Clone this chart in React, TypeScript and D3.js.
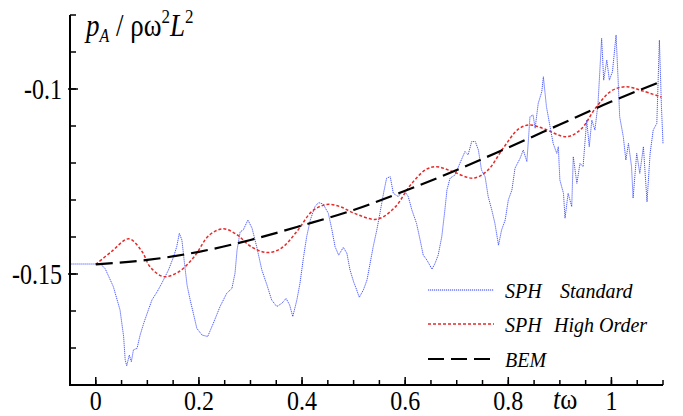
import React from "react";
import * as d3 from "d3";

const W = 683;
const H = 416;

const xTicksMajor = [0, 0.2, 0.4, 0.6, 0.8, 1];
const xTickLabels = ["0", "0.2", "0.4", "0.6", "0.8", "1"];
const yTicksMajor = [-0.1, -0.15];
const yTickLabels = ["-0.1", "-0.15"];

const bem: [number, number][] = [
  [0, -0.1474], [0.1, -0.1462], [0.2, -0.144], [0.3, -0.1408], [0.4, -0.1369],
  [0.5, -0.1327], [0.6, -0.1275], [0.7, -0.1219], [0.8, -0.1158], [0.9, -0.1096],
  [1.0, -0.1034], [1.1, -0.0978],
];

const sphHighOrder: [number, number][] = [
  [0, -0.1474], [0.03, -0.144], [0.064, -0.1405], [0.09, -0.144], [0.105, -0.148],
  [0.131, -0.1507], [0.16, -0.1495], [0.19, -0.1455], [0.22, -0.1395], [0.248, -0.1378],
  [0.275, -0.1395], [0.3, -0.1425], [0.332, -0.1442], [0.36, -0.143], [0.39, -0.1385],
  [0.42, -0.133], [0.448, -0.1312], [0.474, -0.1318], [0.5, -0.1335], [0.545, -0.1352],
  [0.58, -0.132], [0.61, -0.126], [0.64, -0.1218], [0.661, -0.121], [0.69, -0.1222],
  [0.732, -0.1241], [0.76, -0.122], [0.79, -0.116], [0.82, -0.1108], [0.842, -0.1097],
  [0.87, -0.1108], [0.913, -0.1129], [0.94, -0.111], [0.97, -0.105], [1.0, -0.1005],
  [1.029, -0.0994], [1.06, -0.1005], [1.097, -0.1022],
];

const sphStandard: [number, number][] = [
  [-0.049, -0.1473], [0.009, -0.1473], [0.018, -0.1485], [0.034, -0.1534], [0.047, -0.1597],
  [0.054, -0.1669], [0.057, -0.1732], [0.06, -0.1748], [0.065, -0.1719], [0.069, -0.1737],
  [0.073, -0.1705], [0.08, -0.1701], [0.086, -0.1665], [0.093, -0.1633], [0.102, -0.1597],
  [0.109, -0.157], [0.119, -0.1548], [0.128, -0.1525], [0.141, -0.1489], [0.151, -0.1453],
  [0.157, -0.1426], [0.162, -0.139], [0.167, -0.1408], [0.172, -0.1471], [0.177, -0.153],
  [0.183, -0.157], [0.19, -0.1611], [0.196, -0.1647], [0.206, -0.1665], [0.217, -0.1669],
  [0.228, -0.1633], [0.241, -0.1588], [0.254, -0.1552], [0.264, -0.1539], [0.27, -0.1498],
  [0.274, -0.1435], [0.28, -0.1386], [0.286, -0.1381], [0.295, -0.1354], [0.303, -0.1376],
  [0.312, -0.1426], [0.322, -0.1489], [0.332, -0.153], [0.341, -0.157], [0.351, -0.1588],
  [0.361, -0.1579], [0.369, -0.1566], [0.376, -0.1584], [0.382, -0.1615], [0.39, -0.157],
  [0.396, -0.1525], [0.403, -0.1453], [0.409, -0.1399], [0.416, -0.1354], [0.425, -0.1318],
  [0.432, -0.1307], [0.441, -0.1311], [0.451, -0.1336], [0.458, -0.1381], [0.464, -0.1426],
  [0.471, -0.1449], [0.48, -0.1428], [0.487, -0.1444], [0.493, -0.1489], [0.5, -0.1521],
  [0.506, -0.1543], [0.511, -0.1563], [0.519, -0.1543], [0.526, -0.1516], [0.532, -0.1471],
  [0.538, -0.1426], [0.545, -0.1381], [0.551, -0.1336], [0.558, -0.1282], [0.564, -0.1241],
  [0.571, -0.1237], [0.577, -0.1282], [0.587, -0.1291], [0.593, -0.1278], [0.6, -0.1278],
  [0.606, -0.1291], [0.613, -0.1327], [0.622, -0.1363], [0.629, -0.1408], [0.635, -0.1449],
  [0.642, -0.1462], [0.652, -0.1487], [0.658, -0.1471], [0.664, -0.1449], [0.671, -0.1399],
  [0.677, -0.1327], [0.681, -0.1273], [0.687, -0.1241], [0.697, -0.1232], [0.706, -0.1201],
  [0.716, -0.1169], [0.722, -0.1178], [0.729, -0.1142], [0.736, -0.1142], [0.742, -0.1165],
  [0.748, -0.1219], [0.755, -0.1237], [0.761, -0.1291], [0.768, -0.1327], [0.774, -0.1363],
  [0.781, -0.1422], [0.787, -0.1381], [0.794, -0.1354], [0.8, -0.13], [0.807, -0.1273],
  [0.813, -0.1214], [0.823, -0.1187], [0.829, -0.1165], [0.836, -0.1196], [0.839, -0.1138],
  [0.842, -0.1075], [0.848, -0.107], [0.852, -0.1106], [0.858, -0.1039], [0.865, -0.1007],
  [0.868, -0.0967], [0.874, -0.1048], [0.881, -0.1102], [0.887, -0.1147], [0.894, -0.1174],
  [0.897, -0.1156], [0.9, -0.1246], [0.907, -0.1282], [0.91, -0.1349], [0.916, -0.1282],
  [0.923, -0.1318], [0.926, -0.1183], [0.933, -0.1255], [0.939, -0.1201], [0.945, -0.121],
  [0.952, -0.1084], [0.957, -0.1156], [0.962, -0.1084], [0.968, -0.1111], [0.974, -0.1039],
  [0.981, -0.0863], [0.985, -0.0976], [0.991, -0.0922], [0.996, -0.0976], [1.002, -0.0953],
  [1.009, -0.0854], [1.013, -0.0976], [1.016, -0.1075], [1.023, -0.1129], [1.028, -0.1192],
  [1.033, -0.1147], [1.039, -0.121], [1.042, -0.1295], [1.049, -0.1174], [1.055, -0.1228],
  [1.062, -0.1156], [1.069, -0.1305], [1.075, -0.1174], [1.081, -0.1111], [1.088, -0.1093],
  [1.093, -0.0868], [1.097, -0.1048], [1.1, -0.1147],
];

const legendLabels = [["SPH", "Standard"], ["SPH", "High Order"], ["BEM", ""]];

export default function App() {
  const x = d3.scaleLinear().domain([-0.05, 1.1]).range([70, 663]);
  const y = d3.scaleLinear().domain([-0.18, -0.08]).range([385, 15]);

  const line = (curve: d3.CurveFactory) =>
    d3.line<[number, number]>().x((d) => x(d[0])).y((d) => y(d[1])).curve(curve);

  const xMinor = d3.range(0, 1.1001, 0.05);
  const yMinor = d3.range(-0.18, -0.0799, 0.01);

  const font = "Liberation Serif";
  const blue = "#2a3cff";
  const red = "#e52a2a";

  const legendY = [290, 324, 359];
  const tr = (tx: number, ty: number, sy = 1.2) => `translate(${tx},${ty}) scale(1,${sy})`;

  return (
    <svg width={W} height={H} style={{ position: "absolute", left: 0, top: 0 }} fontFamily={font}>
      <rect width={W} height={H} fill="#fff" />
      {/* curves */}
      <path d={line(d3.curveLinear)(sphStandard) || ""} fill="none" stroke={blue} strokeWidth={1} strokeDasharray="1.2 0.8" opacity={0.85} />
      <path d={line(d3.curveCatmullRom)(sphHighOrder) || ""} fill="none" stroke={red} strokeWidth={1.5} strokeDasharray="3 2" />
      <path d={line(d3.curveMonotoneX)(bem) || ""} fill="none" stroke="#000" strokeWidth={2.2} strokeDasharray="17 7" />

      {/* axes */}
      <line x1={70} y1={15} x2={70} y2={386} stroke="#000" strokeWidth={2} />
      <line x1={69} y1={385} x2={663} y2={385} stroke="#000" strokeWidth={2} />
      {xMinor.map((t, i) => (
        <line key={"xm" + i} x1={x(t)} x2={x(t)} y1={385} y2={380} stroke="#000" strokeWidth={1.5} />
      ))}
      {xTicksMajor.map((t, i) => (
        <line key={"xM" + i} x1={x(t)} x2={x(t)} y1={385} y2={377} stroke="#000" strokeWidth={1.5} />
      ))}
      {yMinor.map((v, i) => (
        <line key={"ym" + i} x1={70} x2={76} y1={y(v)} y2={y(v)} stroke="#000" strokeWidth={1.5} />
      ))}
      {yTicksMajor.map((v, i) => (
        <line key={"yM" + i} x1={68} x2={78} y1={y(v)} y2={y(v)} stroke="#000" strokeWidth={1.5} />
      ))}

      {/* tick labels */}
      {xTicksMajor.map((t, i) => (
        <text key={"xl" + i} transform={tr(x(t), 409.5, 1.15)} fontSize={24} textAnchor="middle">
          {xTickLabels[i]}
        </text>
      ))}
      {yTicksMajor.map((v, i) => (
        <text key={"yl" + i} transform={tr(62, y(v) + 10)} fontSize={24} textAnchor="end">
          {yTickLabels[i]}
        </text>
      ))}

      {/* axis titles */}
      <text transform={tr(86, 36, 1.15)} fontSize={27}>
        <tspan fontStyle="italic">p</tspan>
        <tspan fontStyle="italic" fontSize={16} dy={5}>A</tspan>
        <tspan dy={-5}> / ρω</tspan>
        <tspan fontSize={17} dy={-11}>2</tspan>
        <tspan fontStyle="italic" dy={11}>L</tspan>
        <tspan fontSize={17} dy={-11}>2</tspan>
      </text>
      <text transform={tr(553, 409, 1.1)} fontSize={26}>
        <tspan fontStyle="italic">t</tspan>
        <tspan>ω</tspan>
      </text>

      {/* legend */}
      <line x1={428} x2={494} y1={legendY[0]} y2={legendY[0]} stroke={blue} strokeWidth={1} strokeDasharray="1.2 0.8" />
      <line x1={428} x2={494} y1={legendY[1]} y2={legendY[1]} stroke={red} strokeWidth={1.5} strokeDasharray="3 2" />
      <line x1={428} x2={494} y1={legendY[2]} y2={legendY[2]} stroke="#000" strokeWidth={2.2} strokeDasharray="16 7" />
      {legendLabels.map((lab, i) => (
        <text key={"lg" + i} transform={tr(0, legendY[i] + 8, 1.08)} fontSize={20} fontStyle="italic">
          <tspan x={505}>{lab[0]}</tspan>
          {lab[1] ? <tspan x={i === 0 ? 560 : 554}>{lab[1]}</tspan> : null}
        </text>
      ))}
    </svg>
  );
}
